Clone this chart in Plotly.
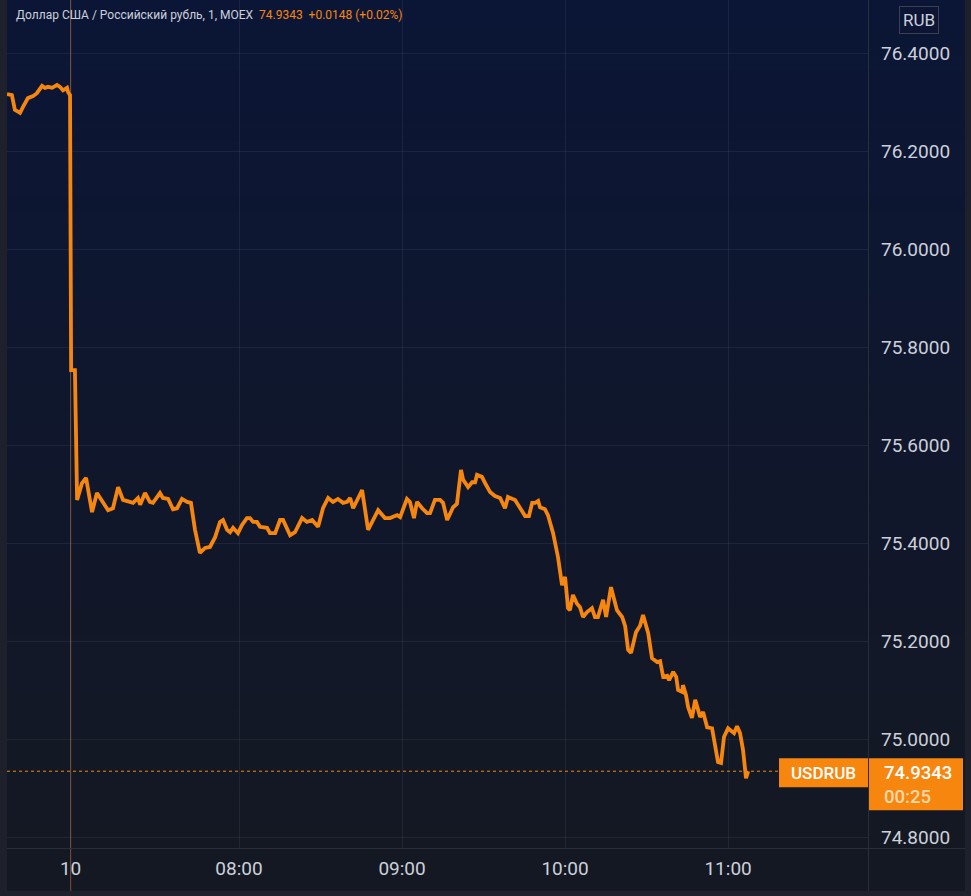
import plotly.graph_objects as go

# ---- data (minutes relative to 08:00 of day 10; negative = before 08:00 / previous session) ----
minutes = [-85.4, -83.6, -82.5, -80.6, -79.5, -77.7, -75.8, -74.4, -72.5, -71.4, -70.3, -68.8,
           -67.0, -65.9, -64.8, -63.3, -62.9, -62.2, -61.8, -60.4, -59.6, -57.8, -56.3, -54.1,
           -52.3, -50.1, -48.2, -46.4, -44.5, -42.7, -39.0, -37.2, -36.4, -34.6, -32.8, -31.7,
           -29.1, -28.0, -26.1, -24.3, -22.8, -21.0, -19.1, -17.7, -16.2, -14.4, -12.5, -10.7,
           -8.8, -7.0, -5.9, -4.4, -3.3, -2.2, -0.4, 1.1, 2.9, 4.0, 5.2, 6.6, 7.7, 10.3, 11.4,
           13.3, 15.1, 16.2, 18.8, 20.6, 23.2, 25.0, 26.9, 29.1, 30.9, 32.8, 34.6, 36.4, 38.3,
           39.8, 40.9, 42.0, 45.3, 47.5, 49.3, 51.2, 53.7, 55.6, 58.2, 59.3, 61.8, 62.9, 64.4,
           65.5, 67.4, 69.2, 70.3, 72.1, 74.0, 75.1, 76.6, 77.7, 78.8, 80.2, 81.7, 82.5, 84.3,
           85.8, 86.9, 87.6, 89.4, 90.6, 92.4, 94.2, 96.1, 97.9, 99.0, 101.6, 103.4, 105.3,
           106.7, 107.9, 109.0, 110.1, 110.8, 112.6, 113.7, 115.6, 117.4, 118.9, 120.0, 121.1,
           121.8, 122.9, 124.4, 125.5, 126.6, 128.1, 129.9, 131.0, 132.1, 134.0, 135.1, 136.9,
           139.1, 141.0, 142.1, 143.2, 144.3, 146.1, 147.6, 148.7, 150.6, 152.0, 153.9, 155.0,
           156.1, 157.6, 158.3, 159.8, 160.9, 161.6, 163.1, 163.4, 164.5, 165.3, 166.7, 167.9,
           169.0, 169.7, 170.8, 172.3, 174.1, 175.2, 176.3, 177.4, 178.5, 180.0, 181.5, 182.2,
           183.3, 184.4, 185.5, 186.3, 186.6, 187.4]
prices = [76.316, 76.314, 76.284, 76.278, 76.290, 76.308, 76.312, 76.318, 76.333, 76.329, 76.331,
          76.329, 76.335, 76.331, 76.324, 76.329, 76.320, 76.314, 75.753, 75.753, 75.488, 75.522,
          75.533, 75.463, 75.502, 75.482, 75.467, 75.471, 75.514, 75.488, 75.482, 75.492, 75.478,
          75.502, 75.484, 75.482, 75.502, 75.492, 75.490, 75.469, 75.471, 75.490, 75.484, 75.482,
          75.427, 75.380, 75.390, 75.392, 75.412, 75.443, 75.447, 75.427, 75.422, 75.431, 75.420,
          75.437, 75.451, 75.451, 75.443, 75.443, 75.433, 75.431, 75.420, 75.420, 75.447, 75.447,
          75.416, 75.422, 75.451, 75.443, 75.447, 75.433, 75.471, 75.492, 75.484, 75.490, 75.482,
          75.484, 75.492, 75.471, 75.508, 75.427, 75.447, 75.467, 75.451, 75.451, 75.457, 75.453,
          75.490, 75.484, 75.451, 75.484, 75.471, 75.461, 75.461, 75.488, 75.488, 75.482, 75.447,
          75.461, 75.473, 75.480, 75.549, 75.529, 75.514, 75.524, 75.524, 75.539, 75.535, 75.522,
          75.504, 75.496, 75.492, 75.471, 75.494, 75.488, 75.471, 75.455, 75.455, 75.482, 75.482,
          75.486, 75.473, 75.469, 75.457, 75.420, 75.371, 75.314, 75.331, 75.267, 75.263, 75.294,
          75.276, 75.269, 75.249, 75.259, 75.267, 75.249, 75.249, 75.284, 75.249, 75.310, 75.263,
          75.249, 75.231, 75.182, 75.176, 75.218, 75.231, 75.253, 75.216, 75.165, 75.157, 75.159,
          75.127, 75.129, 75.120, 75.137, 75.127, 75.100, 75.096, 75.110, 75.090, 75.065, 75.043,
          75.080, 75.059, 75.045, 75.055, 75.024, 75.022, 74.992, 74.953, 74.951, 75.004, 75.022,
          75.014, 75.012, 75.026, 75.012, 74.978, 74.937, 74.920, 74.9343]

tick_vals = [-62, 0, 60, 120, 180]
tick_text = ["10", "08:00", "09:00", "10:00", "11:00"]
y_ticks = [74.8, 75.0, 75.2, 75.4, 75.6, 75.8, 76.0, 76.2, 76.4]

title_text = "Доллар США / Российский рубль, 1, MOEX"
quote_text = "74.9343  +0.0148 (+0.02%)"
symbol = "USDRUB"
last_price = 74.9343
countdown = "00:25"
currency = "RUB"

# ---- geometry ----
W, H = 971, 896
L, R, T, B = 7, 103, 0, 48
PW, PH = W - L - R, H - T - B
X_RANGE = [-85.4, 231.5]
Y_RANGE = [74.7776, 76.5082]

ORANGE = "#f7860f"
TXT = "#ccd0da"
GRID = "rgba(120,135,170,0.13)"
SEP = "#2a2e39"


def px_x(p):
    return (p - L) / PW


def px_y(p):
    return (H - B - p) / PH


fig = go.Figure()
fig.add_trace(go.Scatter(x=minutes, y=prices, mode="lines",
                         line=dict(color=ORANGE, width=3.8), hoverinfo="skip",
                         showlegend=False))

shapes = []
# gradient background (plot + price scale)
top = (11, 22, 54)
bot = (20, 24, 35)
n = 60
for i in range(n):
    f = i / (n - 1)
    c = tuple(round(top[k] + (bot[k] - top[k]) * f) for k in range(3))
    y0p = i * (H - B) / n
    y1p = (i + 1) * (H - B) / n + 0.6
    shapes.append(dict(type="rect", xref="paper", yref="paper", layer="below",
                       x0=px_x(L), x1=px_x(965), y0=px_y(y1p), y1=px_y(y0p),
                       fillcolor="rgb(%d,%d,%d)" % c, line=dict(width=0)))
# time scale row
shapes.append(dict(type="rect", xref="paper", yref="paper", layer="below",
                   x0=px_x(L), x1=px_x(965), y0=px_y(891), y1=px_y(848),
                   fillcolor="rgb(20,24,35)", line=dict(width=0)))
# separators
shapes.append(dict(type="line", xref="paper", yref="paper", layer="above",
                   x0=px_x(L), x1=px_x(965), y0=px_y(848.5), y1=px_y(848.5),
                   line=dict(color=SEP, width=1)))
shapes.append(dict(type="line", xref="paper", yref="paper", layer="above",
                   x0=px_x(868.5), x1=px_x(868.5), y0=px_y(891), y1=px_y(0),
                   line=dict(color=SEP, width=1)))
# session break line
shapes.append(dict(type="line", xref="x", yref="paper", layer="between",
                   x0=tick_vals[0], x1=tick_vals[0], y0=px_y(891), y1=1,
                   line=dict(color="rgba(130,82,50,0.8)", width=1.2)))
# last price dotted line
shapes.append(dict(type="line", xref="paper", yref="y", layer="above",
                   x0=0, x1=px_x(779), y0=last_price, y1=last_price,
                   line=dict(color=ORANGE, width=1, dash="dot")))

# price label box on scale
yl = (last_price - Y_RANGE[0]) / (Y_RANGE[1] - Y_RANGE[0])
shapes.append(dict(type="rect", xref="paper", yref="paper", layer="above",
                   x0=px_x(869), x1=px_x(963), y0=yl - 39 / PH, y1=yl + 13 / PH,
                   fillcolor=ORANGE, line=dict(width=0)))
# symbol label box
shapes.append(dict(type="rect", xref="paper", yref="paper", layer="above",
                   x0=px_x(779), x1=px_x(868), y0=yl - 16 / PH, y1=yl + 13 / PH,
                   fillcolor=ORANGE, line=dict(width=0)))

annotations = [
    dict(text=title_text, xref="paper", yref="paper", x=px_x(14), y=px_y(15),
         xanchor="left", yanchor="middle", showarrow=False,
         font=dict(family="Roboto", size=12, color=TXT)),
    dict(text=quote_text.replace("  ", "\u00a0\u00a0"), xref="paper", yref="paper",
         x=px_x(257), y=px_y(15), xanchor="left", yanchor="middle", showarrow=False,
         font=dict(family="Roboto", size=12, color=ORANGE)),
    dict(text=currency, xref="paper", yref="paper", x=px_x(918.5), y=px_y(20),
         xanchor="center", yanchor="middle", showarrow=False,
         font=dict(family="Roboto", size=17, color=TXT),
         bgcolor="rgba(12,22,52,1)", bordercolor="#3b4150", borderwidth=1,
         borderpad=3),
    dict(text=symbol, xref="paper", yref="paper", x=px_x(823.5), y=yl - 1.5 / PH,
         xanchor="center", yanchor="middle", showarrow=False,
         font=dict(family="Roboto", size=17, color="white", weight=500)),
    dict(text="%.4f" % last_price, xref="paper", yref="paper", x=px_x(882), y=yl - 1.5 / PH,
         xanchor="left", yanchor="middle", showarrow=False,
         font=dict(family="Roboto", size=18.5, color="white", weight=500)),
    dict(text=countdown, xref="paper", yref="paper", x=px_x(882), y=yl - 26 / PH,
         xanchor="left", yanchor="middle", showarrow=False,
         font=dict(family="Roboto", size=18.5, color="rgba(255,240,215,0.8)", weight=500)),
]

fig.update_layout(
    width=W, height=H,
    margin=dict(l=L, r=R, t=T, b=B, pad=0),
    paper_bgcolor="#1e212b",
    plot_bgcolor="rgba(0,0,0,0)",
    shapes=shapes,
    annotations=annotations,
    xaxis=dict(range=X_RANGE, tickvals=tick_vals, ticktext=tick_text,
               showgrid=True, gridcolor=GRID, gridwidth=1, zeroline=False,
               showline=False, ticks="", ticklabelstandoff=7,
               tickfont=dict(family="Roboto", size=19, color=TXT), fixedrange=True),
    yaxis=dict(range=Y_RANGE, side="right", tickvals=y_ticks, tickformat=".4f",
               showgrid=True, gridcolor=GRID, gridwidth=1, zeroline=False,
               showline=False, ticks="", ticklabelstandoff=12,
               tickfont=dict(family="Roboto", size=19, color=TXT), fixedrange=True),
)

fig.write_html("out.html", post_script="document.body.style.margin='0';",
               config={"displayModeBar": False})
